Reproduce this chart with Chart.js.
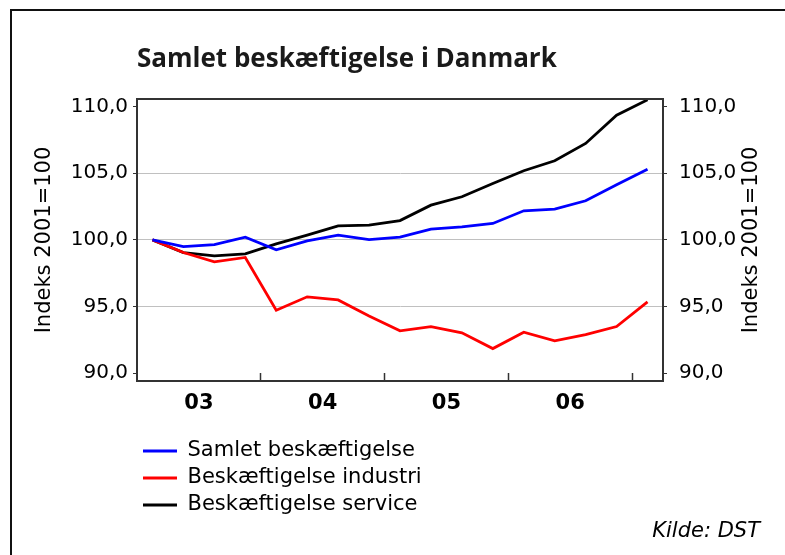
<!DOCTYPE html>
<html lang="da">
<head>
<meta charset="utf-8">
<title>Samlet beskæftigelse i Danmark</title>
<script src="https://cdn.jsdelivr.net/npm/chart.js@4.4.0/dist/chart.umd.min.js"></script>
<style>
html, body { margin: 0; padding: 0; background: #fff; overflow: hidden; }
canvas { display: block; }
#ramme { position: absolute; left: 10px; top: 9px; width: 900px; height: 700px;
         border-top: 2px solid #111; border-left: 2px solid #111; pointer-events: none; }
</style>
</head>
<body>
<canvas id="graf" width="785" height="555"></canvas>
<div id="ramme"></div>
<script>
// Data, kvartalsvis, indeks 2001=100
const kvartaler = ['2003K1', '2003K2', '2003K3', '2003K4', '2004K1', '2004K2', '2004K3', '2004K4',
                   '2005K1', '2005K2', '2005K3', '2005K4', '2006K1', '2006K2', '2006K3', '2006K4', '2007K1'];
const aar = ['03', '04', '05', '06'];
const samlet   = [100.0, 99.5, 99.65, 100.2, 99.25, 99.93, 100.35, 100.02, 100.2, 100.8, 100.98, 101.23, 102.18, 102.3, 102.93, 104.13, 105.3];
const industri = [100.0, 99.05, 98.35, 98.68, 94.73, 95.73, 95.5, 94.3, 93.18, 93.5, 93.03, 91.85, 93.08, 92.43, 92.9, 93.5, 95.35];
const service  = [100.0, 99.05, 98.8, 98.95, 99.7, 100.35, 101.05, 101.1, 101.45, 102.6, 103.23, 104.23, 105.18, 105.93, 107.23, 109.35, 110.5];
const yTicks = [90, 95, 100, 105, 110];
const gitter = [95, 100, 105];

const aksetitel = 'Indeks 2001=100';
const skrift = 'DejaVu Sans, Verdana, sans-serif';

function punkter(serie) {
    return serie.map((v, i) => ({ x: i, y: v, kvartal: kvartaler[i] }));
}

// årstal midt i året, små streger mellem årene
function xTicks() {
    const t = [];
    aar.forEach((a, i) => {
        t.push({ value: i * 4 + 1.5 });
        t.push({ value: i * 4 + 3.5 });
    });
    return t;
}

function tal(v) {
    return v.toFixed(1).replace('.', ',');
}

// øverste kant af plotområdet og højre aksetitel
const ekstra = {
    id: 'ekstra',
    afterDraw(chart) {
        const { ctx, chartArea } = chart;
        ctx.save();
        ctx.strokeStyle = '#333';
        ctx.lineWidth = 2;
        ctx.beginPath();
        ctx.moveTo(chartArea.left, chartArea.top);
        ctx.lineTo(chartArea.right, chartArea.top);
        ctx.stroke();
        ctx.translate(752, (chartArea.top + chartArea.bottom) / 2);
        ctx.rotate(-Math.PI / 2);
        ctx.font = '21px ' + skrift;
        ctx.fillStyle = '#000';
        ctx.textAlign = 'center';
        ctx.textBaseline = 'middle';
        ctx.fillText(aksetitel, 0, 0);
        ctx.restore();
    }
};

new Chart(document.getElementById('graf'), {
    type: 'line',
    data: {
        datasets: [
            { label: 'Samlet beskæftigelse', data: punkter(samlet), borderColor: '#0000ff', backgroundColor: '#0000ff', borderWidth: 2.8 },
            { label: 'Beskæftigelse industri', data: punkter(industri), borderColor: '#ff0000', backgroundColor: '#ff0000', borderWidth: 2.8 },
            { label: 'Beskæftigelse service', data: punkter(service), borderColor: '#000000', backgroundColor: '#000000', borderWidth: 2.8 }
        ]
    },
    options: {
        responsive: false,
        animation: false,
        layout: { padding: { left: 0, right: 25, top: 0, bottom: 0 } },
        elements: {
            point: { radius: 0 },
            line: { tension: 0 }
        },
        plugins: {
            title: {
                display: true,
                text: 'Samlet beskæftigelse i Danmark',
                align: 'start',
                fullSize: false,
                color: '#1a1a1a',
                font: { family: 'Open Sans, sans-serif', size: 26, weight: 'bold', lineHeight: 1.2 },
                padding: { top: 43.8, bottom: 24 }
            },
            legend: {
                position: 'bottom',
                align: 'start',
                fullSize: false,
                maxHeight: 84,
                labels: {
                    usePointStyle: true,
                    pointStyle: 'line',
                    pointStyleWidth: 34,
                    padding: 6,
                    color: '#000',
                    font: { family: skrift, size: 21 }
                }
            },
            subtitle: {
                display: true,
                text: 'Kilde: DST',
                position: 'bottom',
                align: 'end',
                color: '#000',
                font: { family: skrift, size: 21, style: 'italic', lineHeight: 1.2 },
                padding: { top: 0, bottom: 11.3 }
            },
            tooltip: { enabled: false }
        },
        scales: {
            x: {
                type: 'linear',
                min: -0.5,
                max: kvartaler.length - 0.5,
                afterBuildTicks: s => { s.ticks = xTicks(); },
                afterFit: s => { s.height = 53.5; },
                ticks: {
                    autoSkip: false,
                    maxRotation: 0,
                    padding: 18.4,
                    color: '#000',
                    font: { family: skrift, size: 21, weight: 'bold' },
                    callback: v => {
                        const i = (v - 1.5) / 4;
                        return Number.isInteger(i) ? aar[i] : '';
                    }
                },
                grid: {
                    drawOnChartArea: false,
                    tickLength: -8,
                    tickWidth: 1.5,
                    tickColor: c => (c.tick && (c.tick.value - 3.5) % 4 === 0) ? '#333' : 'rgba(0,0,0,0)'
                },
                border: { color: '#333', width: 2 }
            },
            y: {
                position: 'left',
                min: 89.42,
                max: 110.56,
                afterBuildTicks: s => { s.ticks = yTicks.map(v => ({ value: v })); },
                afterFit: s => { s.width = 137; },
                ticks: { padding: 5, color: '#000', font: { family: skrift, size: 20 }, callback: tal },
                title: {
                    display: true,
                    text: aksetitel,
                    color: '#000',
                    font: { family: skrift, size: 21, lineHeight: 1.2 },
                    padding: { top: 32, bottom: 0 }
                },
                grid: {
                    tickLength: 4,
                    color: c => (c.tick && gitter.includes(c.tick.value)) ? '#c0c0c0' : 'rgba(0,0,0,0)',
                    tickColor: '#333'
                },
                border: { color: '#333', width: 2 }
            },
            yHoejre: {
                position: 'right',
                min: 89.42,
                max: 110.56,
                afterBuildTicks: s => { s.ticks = yTicks.map(v => ({ value: v })); },
                afterFit: s => { s.width = 97; },
                ticks: { padding: 12, color: '#000', font: { family: skrift, size: 20 }, callback: tal },
                grid: { drawOnChartArea: false, tickLength: 4, tickColor: '#333' },
                border: { color: '#333', width: 2 }
            }
        }
    },
    plugins: [ekstra]
});
</script>
</body>
</html>
